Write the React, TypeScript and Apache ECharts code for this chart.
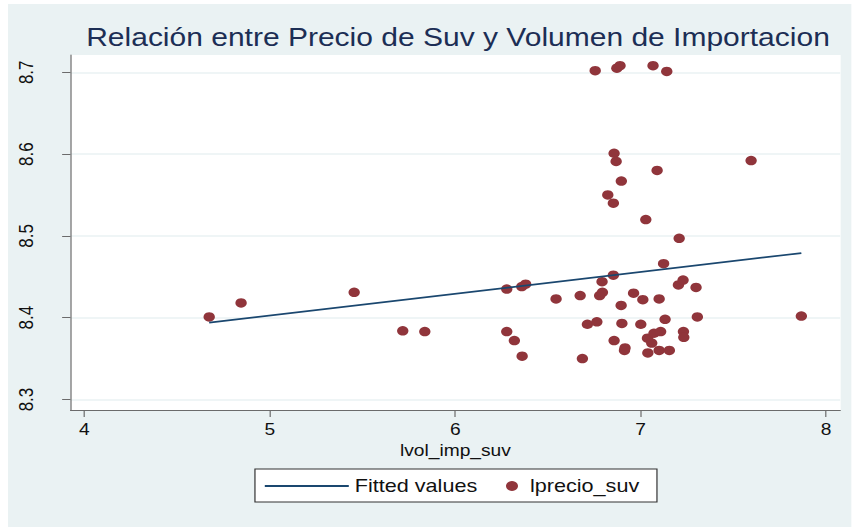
import React, { useEffect, useRef } from "react";
import * as echarts from "echarts";

// Scatter data (lvol_imp_suv vs lprecio_suv)
const lvolImpSuv = [
  4.673, 4.845, 5.455, 5.717, 5.836, 6.278, 6.359, 6.380, 6.544, 6.278,
  6.319, 6.361, 6.674, 6.686, 6.713, 6.764, 6.779, 6.794, 6.792, 6.853,
  6.895, 6.899, 6.857, 6.916, 6.913, 6.962, 7.012, 7.001, 7.037, 7.060,
  7.072, 7.108, 7.039, 7.100, 7.155, 7.100, 7.124, 7.132, 7.204, 7.229,
  7.299, 7.306, 7.231, 7.233, 6.755, 6.872, 6.889, 7.067, 7.141, 6.857,
  6.868, 7.089, 7.596, 6.896, 6.823, 6.853, 7.028, 7.208, 7.867,
];
const lprecioSuv = [
  8.401, 8.418, 8.431, 8.384, 8.383, 8.435, 8.438, 8.441, 8.423, 8.383,
  8.372, 8.353, 8.427, 8.350, 8.392, 8.395, 8.427, 8.431, 8.444, 8.452,
  8.415, 8.393, 8.372, 8.363, 8.360, 8.430, 8.422, 8.392, 8.375, 8.369,
  8.381, 8.383, 8.357, 8.360, 8.360, 8.423, 8.466, 8.398, 8.440, 8.446,
  8.437, 8.401, 8.383, 8.376, 8.702, 8.705, 8.708, 8.708, 8.701, 8.601,
  8.591, 8.580, 8.592, 8.567, 8.550, 8.540, 8.520, 8.497, 8.402,
];
// Fitted values line (endpoints)
const fitX = [4.673, 7.867];
const fitY = [8.394, 8.479];

const xTicks = [4, 5, 6, 7, 8];
const yTicks = [8.3, 8.4, 8.5, 8.6, 8.7];

const titleText = "Relación entre Precio de Suv y Volumen de Importacion";
const xName = "lvol_imp_suv";
const fitName = "Fitted values";
const scatterName = "lprecio_suv";

const FONT = "'Liberation Sans', Arial, sans-serif";
const BG = "#eaf2f3";
const AXIS = "#6b6b6b";
const STRETCH = 1.2;
const W = 844 / STRETCH;
const H = 523;

export default function App() {
  const ref = useRef<HTMLDivElement>(null);
  useEffect(() => {
    if (!ref.current) return;
    const chart = echarts.init(ref.current, undefined, { renderer: "svg" });
    const scatterData = lvolImpSuv.map((x, i) => [x, lprecioSuv[i]]);
    const fitData = fitX.map((x, i) => [x, fitY[i]]);
    chart.setOption({
      animation: false,
      backgroundColor: BG,
      textStyle: { fontFamily: FONT },
      graphic: [
        {
          type: "rect",
          z: 0,
          shape: { x: 52.1, y: 51, width: 641.8, height: 355 },
          style: { fill: "#ffffff" },
          silent: true,
        },
        {
          type: "text",
          x: 375,
          y: 33.5,
          style: {
            text: titleText,
            fontSize: 25,
            fontFamily: FONT,
            fill: "#1c2e55",
            textAlign: "center",
            textVerticalAlign: "middle",
          },
        },
        {
          type: "rect",
          z: 0,
          shape: { x: 205.8, y: 465, width: 335, height: 33 },
          style: { fill: "#ffffff", stroke: "#333333", lineWidth: 1 },
          silent: true,
        },
      ],
      grid: { left: 52.1, right: W - 693.9, top: 51, bottom: H - 406, containLabel: false },
      xAxis: {
        type: "value",
        min: 3.925,
        max: 8.077,
        name: xName,
        nameLocation: "middle",
        nameGap: 33,
        nameTextStyle: { fontSize: 16, color: "#111", fontFamily: FONT },
        axisLine: { show: true, onZero: false, lineStyle: { color: AXIS, width: 1 } },
        axisTick: { show: true, customValues: xTicks, length: 7, lineStyle: { color: AXIS } },
        axisLabel: {
          customValues: xTicks,
          fontSize: 16,
          color: "#111",
          margin: 12,
          fontFamily: FONT,
          formatter: (v: number) => String(v),
        },
        splitLine: { show: false },
      },
      yAxis: {
        type: "value",
        min: 8.2872,
        max: 8.7211,
        axisLine: { show: true, onZero: false, lineStyle: { color: AXIS, width: 1 } },
        axisTick: { show: true, customValues: yTicks, length: 7, lineStyle: { color: AXIS } },
        axisLabel: {
          customValues: yTicks,
          rotate: 90,
          fontSize: 17,
          color: "#111",
          margin: 29,
          fontFamily: FONT,
          formatter: (v: number) => v.toFixed(1),
        },
        splitLine: { show: true, lineStyle: { color: BG, width: 1.5 } },
      },
      legend: [
        {
          data: [{ name: fitName, itemStyle: { opacity: 0 } }],
          left: 213,
          top: 473,
          padding: 0,
          itemWidth: 70,
          itemHeight: 2,
          selectedMode: false,
          textStyle: { fontSize: 18, color: "#111", fontFamily: FONT },
        },
        {
          data: [{ name: scatterName, icon: "circle" }],
          left: 415,
          top: 473,
          padding: 0,
          itemWidth: 20,
          itemHeight: 10,
          selectedMode: false,
          textStyle: { fontSize: 18, color: "#111", fontFamily: FONT },
        },
      ],
      series: [
        {
          name: fitName,
          type: "line",
          data: fitData,
          symbol: "none",
          silent: true,
          lineStyle: { color: "#1a476f", width: 1.7 },
          itemStyle: { color: "#1a476f" },
        },
        {
          name: scatterName,
          type: "scatter",
          data: scatterData,
          symbol: "circle",
          symbolSize: 9.5,
          silent: true,
          itemStyle: { color: "#90353b", opacity: 1 },
        },
      ],
    });
    return () => chart.dispose();
  }, []);
  return (
    <div
      ref={ref}
      style={{
        position: "absolute",
        left: 8,
        top: 4,
        width: W,
        height: H,
        transform: `scaleX(${STRETCH})`,
        transformOrigin: "0 0",
      }}
    />
  );
}
